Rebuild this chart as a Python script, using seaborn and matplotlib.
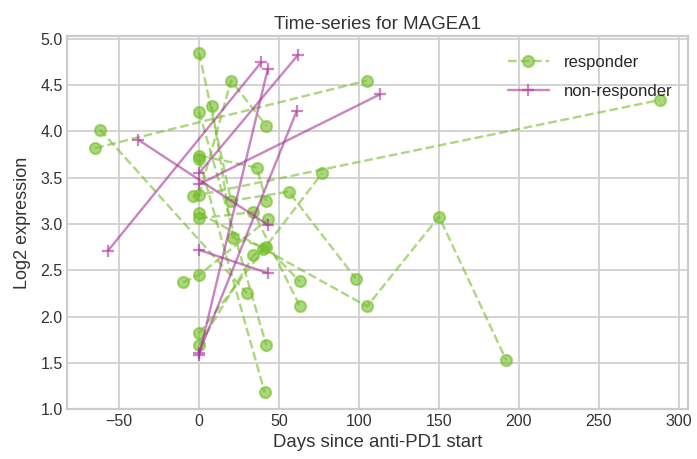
import matplotlib
matplotlib.use("Agg")
import matplotlib.pyplot as plt
from matplotlib.lines import Line2D
import seaborn as sns
import pandas as pd

# Responder patients (days since anti-PD1 start, log2 expression)
resp_patient = ["R1", "R1", "R2", "R2", "R3", "R3", "R3", "R3", "R4", "R4",
                "R5", "R5", "R5", "R6", "R6", "R7", "R7",
                "R8", "R8", "R8", "R8", "R9", "R9", "R9", "R9",
                "R10", "R10", "R10", "R11", "R11", "R11",
                "R12", "R12", "R12", "R13", "R13", "R14", "R14", "R14"]
resp_day = [-65, 105, -62, 30, 0, 105, 150, 192, -4, 288,
            0, 20, 42, 0, 41, 0, 42,
            0, 20, 56, 98, 8, 21, 42, 63,
            0, 36, 42, 0, 34, 63,
            -10, 0, 43, 0, 77, 0, 34, 40]
resp_expr = [3.82, 4.55, 4.02, 2.25, 3.12, 2.11, 3.08, 1.53, 3.30, 4.34,
             3.31, 4.55, 4.06, 3.70, 1.18, 4.21, 1.69,
             4.85, 3.25, 3.35, 2.41, 4.27, 2.85, 2.75, 2.38,
             3.74, 3.61, 3.25, 3.06, 3.13, 2.11,
             2.37, 2.45, 3.05, 1.82, 3.55, 1.69, 2.66, 2.73]

# Non-responder patients
nonresp_patient = ["N1", "N1", "N2", "N2", "N3", "N3", "N4", "N4",
                   "N5", "N5", "N6", "N6", "N7", "N7"]
nonresp_day = [-57, 39, -38, 43, 0, 62, 0, 113, 0, 43, 0, 43, 0, 61]
nonresp_expr = [2.71, 4.75, 3.91, 2.99, 3.55, 4.83, 3.43, 4.40,
                2.72, 2.47, 1.58, 4.68, 1.61, 4.22]

group_labels = ["responder", "non-responder"]
green = "#74bd28"
purple = "#a8329a"

df_r = pd.DataFrame({"patient": resp_patient, "day": resp_day, "expr": resp_expr})
df_n = pd.DataFrame({"patient": nonresp_patient, "day": nonresp_day, "expr": nonresp_expr})

sns.set_style("whitegrid")
plt.rcParams["font.family"] = ["Liberation Sans", "DejaVu Sans"]

fig = plt.figure(figsize=(6.97, 4.59), dpi=100)
ax = fig.add_axes([0.096, 0.108, 0.891, 0.814])

sns.lineplot(data=df_r, x="day", y="expr", units="patient", estimator=None,
             color=green, marker="o", linestyle="--", alpha=0.6, lw=1.7,
             markersize=8, markeredgecolor=green, markeredgewidth=1.5,
             legend=False, ax=ax)
sns.lineplot(data=df_n, x="day", y="expr", units="patient", estimator=None,
             color=purple, marker="+", linestyle="-", alpha=0.6, lw=1.7,
             markersize=9, markeredgecolor=purple, markeredgewidth=1.6,
             legend=False, ax=ax)

for sp in ax.spines.values():
    sp.set_color("#cccccc")
    sp.set_linewidth(1.6)
ax.grid(color="#d0d0d0", linewidth=1.3)

ax.set_title("Time-series for MAGEA1", fontsize=13.5, color="#333333", pad=5)
ax.set_xlabel("Days since anti-PD1 start", fontsize=13.4, color="#333333", labelpad=4)
ax.set_ylabel("Log2 expression", fontsize=13, color="#333333", labelpad=7)
ax.tick_params(labelsize=11.5, colors="#333333", length=0, pad=3)
ax.set_xticks([-50, 0, 50, 100, 150, 200, 250, 300])
ax.set_yticks([1.0, 1.5, 2.0, 2.5, 3.0, 3.5, 4.0, 4.5, 5.0])
ax.set_yticklabels([f"{v:.1f}" for v in [1.0, 1.5, 2.0, 2.5, 3.0, 3.5, 4.0, 4.5, 5.0]])

handles = [
    Line2D([], [], color=green, marker="o", linestyle="--", alpha=0.6, lw=1.7,
           markersize=8, markeredgecolor=green, markeredgewidth=1.5),
    Line2D([], [], color=purple, marker="+", linestyle="-", alpha=0.6, lw=1.7,
           markersize=9, markeredgewidth=1.6),
]
ax.legend(handles, group_labels, loc="upper right", frameon=False, fontsize=12,
          handlelength=2.5, handletextpad=0.9, labelspacing=0.85,
          bbox_to_anchor=(1.0, 0.99))

fig.savefig("out.png", dpi=100)
